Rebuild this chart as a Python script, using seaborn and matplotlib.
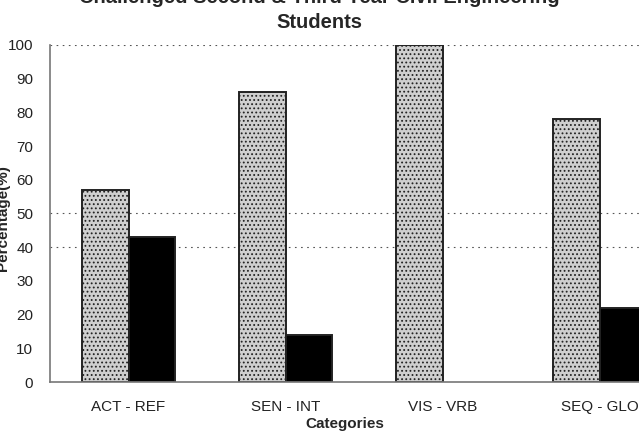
import pandas as pd
import matplotlib
matplotlib.use('Agg')
import matplotlib.pyplot as plt
import seaborn as sns

# Values
categories = ['ACT - REF', 'SEN - INT', 'VIS - VRB', 'SEQ - GLO']
first_pole = [57, 86, 100, 78]
second_pole = [43, 14, 0, 22]
series_names = ['First', 'Second']
grid_levels = [40, 50, 100]

df = pd.DataFrame({
    'Categories': categories * 2,
    'Percentage': first_pole + second_pole,
    'Group': [series_names[0]] * len(categories) + [series_names[1]] * len(categories),
})

sns.set_style('white')
plt.rcParams['font.family'] = ['Liberation Sans', 'DejaVu Sans']
plt.rcParams['hatch.color'] = '#6e6e6e'
plt.rcParams['hatch.linewidth'] = 0.8

fig = plt.figure(figsize=(6.39, 4.36), dpi=100)
ax = fig.add_axes([50 / 639, 54 / 436, 589 / 639, 337 / 436])

sns.barplot(data=df, x='Categories', y='Percentage', hue='Group',
            palette=['#cfcfcf', '#000000'], width=0.59, gap=0,
            edgecolor='#222222', linewidth=1.4, legend=False, ax=ax)

# stippled texture on the grey bars
for bar in ax.containers[0]:
    bar.set_hatch('....')
# empty bars leave no outline
for cont in ax.containers:
    for bar in cont:
        if bar.get_height() == 0:
            bar.set_linewidth(0)

for lvl in grid_levels:
    ax.axhline(lvl, color='#555555', linestyle=(0, (1.5, 4)), linewidth=0.8, zorder=0)

ax.set_ylim(0, 100)
ax.set_xlim(-0.5, 3.25)
ax.set_yticks(range(0, 101, 10))
ax.tick_params(axis='both', length=0, labelsize=11, colors='#222222')
ax.tick_params(axis='x', pad=13)
ax.tick_params(axis='y', pad=12)
ax.set_ylabel('')
ax.set_xlabel('Categories', fontsize=11, fontweight='bold', labelpad=2)

for side in ['top', 'right']:
    ax.spines[side].set_visible(False)
ax.spines['left'].set_color('#777777')
ax.spines['bottom'].set_color('#777777')
ax.spines['left'].set_linewidth(1.2)
ax.spines['bottom'].set_linewidth(1.2)

fig.text(0.5, 1 - 32 / 436, 'Challenged Second & Third Year Civil Engineering\nStudents',
         ha='center', va='bottom', fontsize=14.5, fontweight='bold', linespacing=1.4)
fig.text(3 / 639, 0.5, 'Percentage(%)', rotation=90, ha='center', va='center',
         fontsize=11, fontweight='bold')

fig.savefig('out.png', dpi=100)
